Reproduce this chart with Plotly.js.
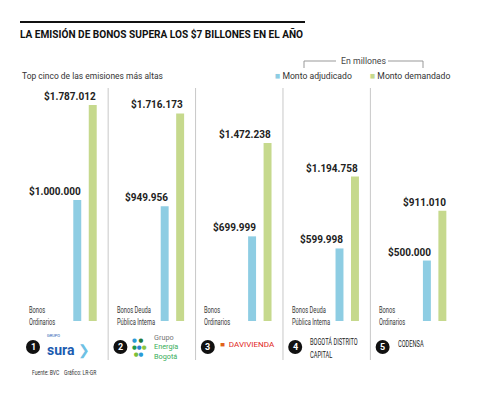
<!DOCTYPE html>
<html><head><meta charset="utf-8">
<script src="https://cdn.plot.ly/plotly-3.0.1.min.js"></script>
<style>body{margin:0;background:#fff}#c{width:480px;height:400px}</style>
</head><body><div id="c"></div>
<script>
const categories = ['1','2','3','4','5'];
const bondTypes = ['Bonos<br>Ordinarios','Bonos Deuda<br>Pública Interna','Bonos<br>Ordinarios','Bonos Deuda<br>Pública Interna','Bonos<br>Ordinarios'];
const montoAdjudicado = [1000000, 949956, 699999, 599998, 500000];
const montoDemandado = [1787012, 1716173, 1472238, 1194758, 911010];

const BLUE = '#8ecde3', GREEN = '#c6d98d';
const FONT = 'Roboto, sans-serif';
const fmt = v => '$' + String(v).replace(/\B(?=(\d{3})+(?!\d))/g, '.');
const py = px => (321 - px) / 233;   // pixel -> paper y
const idx = categories.map((c, i) => i);

const traces = [
  {type:'bar', name:'Monto adjudicado', x: idx, y: montoAdjudicado, marker:{color:BLUE}, hoverinfo:'none'},
  {type:'bar', name:'Monto demandado', x: idx, y: montoDemandado, marker:{color:GREEN}, hoverinfo:'none'}
];

const ann = [];
const squeeze = [];   // [annotation index, horizontal scale] for condensed text
const addAnn = (a, sx) => { ann.push(a); if (sx) squeeze.push([ann.length - 1, sx]); };
const shapes = [];

idx.forEach(i => {
  addAnn({x:i, y:montoAdjudicado[i], xref:'x', yref:'y', text:'<b>'+fmt(montoAdjudicado[i])+'</b>',
    showarrow:false, xanchor:'right', yanchor:'bottom', xshift:-2, yshift:1,
    font:{family:FONT, size:10, color:'#222'}});
  addAnn({x:i, y:montoDemandado[i], xref:'x', yref:'y', text:'<b>'+fmt(montoDemandado[i])+'</b>',
    showarrow:false, xanchor:'right', yanchor:'bottom', xshift:13, yshift:1,
    font:{family:FONT, size:10, color:'#222'}});
  addAnn({x:i - 0.66, y:py(315), xref:'x', yref:'paper', text:bondTypes[i], showarrow:false,
    xanchor:'left', yanchor:'middle', align:'left',
    font:{family:FONT, size:9.4, color:'#333'}}, 0.61);
  shapes.push({type:'circle', xref:'x', yref:'paper', xsizemode:'pixel', ysizemode:'pixel',
    xanchor:i - 0.595, yanchor:py(347), x0:-7, x1:7, y0:-7, y1:7,
    fillcolor:'#111', line:{width:0}});
  addAnn({x:i - 0.595, y:py(347), xref:'x', yref:'paper', text:'<b>'+categories[i]+'</b>', showarrow:false,
    xanchor:'center', yanchor:'middle', font:{family:FONT, size:9, color:'#fff'}});
  if (i < 4) shapes.push({type:'line', xref:'x', yref:'paper', x0:i + 0.265, x1:i + 0.265, y0:1, y1:py(360),
    line:{color:'#c8c8c8', width:1}});
});

// issuer logos rendered as text
addAnn({x:-0.595, y:py(346), xref:'x', yref:'paper', xshift:12,
  text:'<span style="font-size:4px">GRUPO</span><br><b>sura</b><span style="color:#6ec1e4"> ❯</span>',
  showarrow:false, xanchor:'left', yanchor:'middle', align:'left', font:{family:FONT, size:14, color:'#1c5cb0'}});
addAnn({x:1 - 0.595, y:py(347), xref:'x', yref:'paper', xshift:10,
  text:'<span style="color:#2a9ad6">●</span> <span style="color:#1e7a3c">●</span><br><span style="color:#1e9a4e">●</span><span style="color:#2a7fd0">●</span><span style="color:#8cc63f">●</span><br> <span style="color:#7bbf3a">●</span><span style="color:#2a9ad6">●</span>',
  showarrow:false, xanchor:'left', yanchor:'middle', align:'left', font:{family:'DejaVu Sans, sans-serif', size:5.5}});
addAnn({x:1 - 0.595, y:py(347), xref:'x', yref:'paper', xshift:32,
  text:'<span style="color:#777">Grupo</span><br><span style="color:#3aae5a">Energía</span><br><span style="color:#3aae5a">Bogotá</span>',
  showarrow:false, xanchor:'left', yanchor:'middle', align:'left', font:{family:FONT, size:7.3}});
addAnn({x:2 - 0.595, y:py(345), xref:'x', yref:'paper', xshift:10,
  text:'<span style="color:#e0621a">■</span>  DAVIVIENDA',
  showarrow:false, xanchor:'left', yanchor:'middle', align:'left', font:{family:FONT, size:7, color:'#e1261c'}}, 1.15);
addAnn({x:3 - 0.595, y:py(348), xref:'x', yref:'paper', xshift:13,
  text:'BOGOTÁ DISTRITO<br>CAPITAL', showarrow:false, xanchor:'left', yanchor:'middle', align:'left',
  font:{family:FONT, size:9.8, color:'#222'}}, 0.58);
addAnn({x:4 - 0.595, y:py(343), xref:'x', yref:'paper', xshift:13,
  text:'CODENSA', showarrow:false, xanchor:'left', yanchor:'middle', align:'left',
  font:{family:FONT, size:9.8, color:'#222'}}, 0.58);

// header and footer texts
addAnn({x:20/480, y:py(75), xref:'paper', yref:'paper', text:'Top cinco de las emisiones más altas', showarrow:false,
  xanchor:'left', yanchor:'middle', font:{family:FONT, size:9.5, color:'#333'}}, 0.89);
addAnn({x:339/480, y:py(60), xref:'paper', yref:'paper', text:'En millones', showarrow:false,
  xanchor:'left', yanchor:'middle', font:{family:FONT, size:9.5, color:'#444'}}, 0.92);
addAnn({x:273/480, y:py(75), xref:'paper', yref:'paper', text:'<span style="color:'+BLUE+'">■</span> '+traces[0].name, showarrow:false,
  xanchor:'left', yanchor:'middle', font:{family:FONT, size:9.5, color:'#333'}}, 0.91);
addAnn({x:368/480, y:py(75), xref:'paper', yref:'paper', text:'<span style="color:'+GREEN+'">■</span> '+traces[1].name, showarrow:false,
  xanchor:'left', yanchor:'middle', font:{family:FONT, size:9.5, color:'#333'}}, 0.91);
addAnn({x:30/480, y:py(373), xref:'paper', yref:'paper', text:'Fuente: BVC', showarrow:false,
  xanchor:'left', yanchor:'middle', font:{family:FONT, size:7, color:'#333'}}, 0.72);
addAnn({x:62/480, y:py(373), xref:'paper', yref:'paper', text:'Gráfico: LR-GR', showarrow:false,
  xanchor:'left', yanchor:'middle', font:{family:FONT, size:7, color:'#333'}}, 0.72);

shapes.push({type:'line', xref:'paper', yref:'paper', x0:20/480, x1:305/480, y0:py(22), y1:py(22), line:{color:'#111', width:2}});
shapes.push({type:'path', xref:'paper', yref:'paper', path:'M '+304/480+' '+py(68)+' L '+304/480+' '+py(61)+' L '+336/480+' '+py(61), line:{color:'#999', width:1}});
shapes.push({type:'path', xref:'paper', yref:'paper', path:'M '+388/480+' '+py(61)+' L '+423/480+' '+py(61)+' L '+423/480+' '+py(68), line:{color:'#999', width:1}});

const layout = {
  width:480, height:400,
  margin:{l:0, r:0, t:88, b:79},
  paper_bgcolor:'#fff', plot_bgcolor:'#fff',
  title:{text:'<b>LA EMISIÓN DE BONOS SUPERA LOS $7 BILLONES EN EL AÑO</b>', x:20/480, xref:'container', xanchor:'left',
    y:1 - 34/400, yref:'container', yanchor:'middle', font:{family:FONT, size:10.1, color:'#111'}},
  barmode:'group', bargap:0.646, bargroupgap:0.486,
  showlegend:false,
  xaxis:{range:[-0.9725, 4.519], visible:false, fixedrange:true},
  yaxis:{range:[0, 1927000], visible:false, fixedrange:true},
  annotations:ann, shapes:shapes
};
Plotly.newPlot('c', traces, layout, {displayModeBar:false, staticPlot:true}).then(gd => {
  squeeze.forEach(([k, sx]) => {
    const t = gd.querySelector('.annotation[data-index="'+k+'"] text.annotation-text');
    if (t) {
      t.style.transformBox = 'fill-box';
      t.style.transformOrigin = '0 50%';
      t.style.transform = 'scaleX(' + sx + ')';
    }
  });
});
</script></body></html>
